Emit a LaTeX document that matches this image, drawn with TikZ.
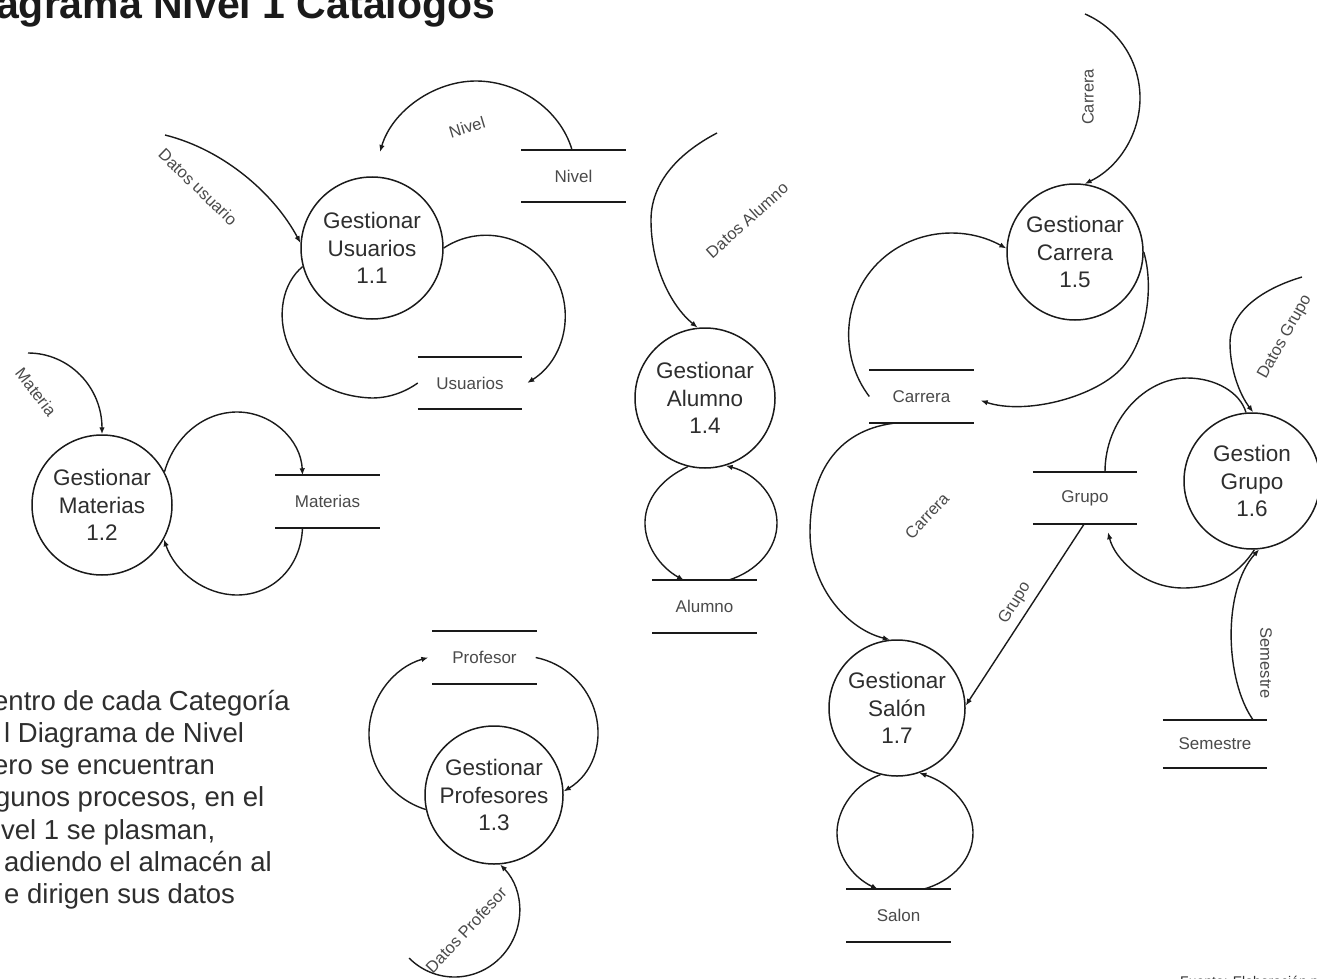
\documentclass[tikz,border=0pt]{standalone}
\usepackage{fontspec}
\setmainfont{Liberation Sans}
\usetikzlibrary{arrows.meta}
\definecolor{ink}{HTML}{1A1A1A}
\definecolor{txt}{HTML}{2E2E2E}
\definecolor{lbl}{HTML}{4A4A4A}

\begin{document}
\begin{tikzpicture}[x=1pt,y=-1pt,
  proc/.style={circle, draw=ink, line width=1.5pt, inner sep=0pt, align=center,
    text=txt, font=\fontsize{22.5}{27.5}\selectfont},
  storebox/.style={minimum width=104pt, minimum height=52pt, inner sep=0pt,
    text=lbl, font=\fontsize{17}{19}\selectfont},
  storeline/.style={draw=ink, line width=2pt},
  flow/.style={draw=ink, line width=1.4pt},
  arr/.style={flow, -{Latex[length=7pt,width=5.5pt]}},
  flowlbl/.style={text=lbl, font=\fontsize{16.5}{18}\selectfont, inner sep=1pt},
  note/.style={anchor=base west, text=txt, font=\fontsize{27.5}{32}\selectfont, inner sep=0pt}
]
\useasboundingbox (0,0) rectangle (1317,979);
\clip (0,0) rectangle (1317,979);
\fill[white] (0,0) rectangle (1317,979);

% title and side note
\node[anchor=base west, inner sep=0pt, text=ink, font=\bfseries\fontsize{41}{45}\selectfont]
  (title) at (-4,19) {agrama Nivel 1 Catalogos};
\node[note] (n1) at (-7,710)   {entro de cada Categoría};
\node[note] (n2) at (4,742.3)  {l Diagrama de Nivel};
\node[note] (n3) at (-7,774.6) {ero se encuentran};
\node[note] (n4) at (-5,806.9) {gunos procesos, en el};
\node[note] (n5) at (1,839.2)  {vel 1 se plasman,};
\node[note] (n6) at (4,871.5)  {adiendo el almacén al};
\node[note] (n7) at (4,903.8)  {e dirigen sus datos};
\node[anchor=base west, inner sep=0pt, text=txt, font=\fontsize{14}{16}\selectfont]
  (src) at (1180,986) {Fuente: Elaboración propia};

% processes
\node[proc, minimum size=142pt] (p11) at (372,248) {Gestionar\\Usuarios\\1.1};
\node[proc, minimum size=140pt] (p12) at (102,505) {Gestionar\\Materias\\1.2};
\node[proc, minimum size=138pt] (p13) at (494,795) {Gestionar\\Profesores\\1.3};
\node[proc, minimum size=140pt] (p14) at (705,398) {Gestionar\\Alumno\\1.4};
\node[proc, minimum size=136pt] (p15) at (1075,252) {Gestionar\\Carrera\\1.5};
\node[proc, minimum size=136pt] (p16) at (1252,481) {Gestion\\Grupo\\1.6};
\node[proc, minimum size=136pt] (p17) at (897,708) {Gestionar\\Salón\\1.7};

% data stores
\node[storebox] (sNivel)    at (573.5,176)   {Nivel};
\node[storebox] (sUsuarios) at (470,383)     {Usuarios};
\node[storebox] (sMaterias) at (327.5,501.5) {Materias};
\node[storebox] (sProfesor) at (484.5,657.5) {Profesor};
\node[storebox] (sAlumno)   at (704.5,606.5) {Alumno};
\node[storebox] (sCarrera)  at (921.5,396.5) {Carrera};
\node[storebox] (sGrupo)    at (1085,498)    {Grupo};
\node[storebox, minimum height=48pt] (sSemestre) at (1215,744) {Semestre};
\node[storebox] (sSalon)    at (898.5,915.5) {Salon};
\foreach \s in {sNivel,sUsuarios,sMaterias,sProfesor,sAlumno,sCarrera,sGrupo,sSemestre,sSalon}
  \draw[storeline] (\s.north west) -- (\s.north east) (\s.south west) -- (\s.south east);

% free ends of external flows
\coordinate (nivEnd)  at (380,152);
\coordinate (duStart) at (165,135);
\coordinate (maStart) at (28,353);
\coordinate (dpStart) at (409,958);
\coordinate (daStart) at (717,133);
\coordinate (caStart) at (1085,14);
\coordinate (dgStart) at (1302,277);

% 1.1 Usuarios
\draw[arr] ([xshift=-1.5pt]sNivel.north) .. controls (560,109) and (518,81) .. (476,81)
  .. controls (434,81) and (392,111) .. (nivEnd);
\node[flowlbl, rotate=17] (lNivel) at (467,127) {Nivel};
\draw[arr] (duStart) .. controls (225,150) and (275,195) .. (p11.176);
\node[flowlbl, rotate=-44] (lDatosUsuario) at (198,187) {Datos usuario};
\draw[flow] (p11.195) .. controls (262,300) and (280,395) .. (372,398)
  .. controls (392,398) and (408,390) .. (sUsuarios.west);
\draw[arr] (p11.0) .. controls (480.5,223.7) and (529.8,235.3) .. (553,272.8)
  .. controls (576.2,310.3) and (564.9,359.4) .. ([xshift=5pt]sUsuarios.east);

% 1.2 Materias
\draw[arr] (maStart) .. controls (69,353) and (102,387) .. (p12.north);
\node[flowlbl, rotate=-52] (lMateria) at (36,392) {Materia};
\draw[arr] (p12.28) .. controls (175,435) and (205,412) .. (237,412)
  .. controls (272,412) and (301,440) .. ([xshift=-25pt]sMaterias.north);
\draw[arr] ([xshift=-25pt]sMaterias.south) .. controls (301,568) and (272,595) .. (237,595)
  .. controls (205,595) and (175,572) .. (p12.-29);

% 1.3 Profesores
\draw[arr] (p13.192) .. controls (391.6,798.8) and (368.3,767.6) .. (369,732.5)
  .. controls (369.7,697.4) and (394.1,667.2) .. ([xshift=-4pt]sProfesor.west);
\draw[arr] ([xshift=-1pt]sProfesor.east) .. controls (564.5,663.2) and (588.3,685.2) .. (595.7,714.3)
  .. controls (603.1,743.4) and (592.7,774) .. (p13.3);
\draw[arr] (dpStart) .. controls (435,984) and (476,983) .. (501,957)
  .. controls (526,931) and (525,890) .. (p13.-85);
\node[flowlbl, rotate=47] (lDatosProf) at (466,930) {Datos Profesor};

% 1.4 Alumno
\draw[arr] (daStart) .. controls (675,155) and (651,185) .. (651,220)
  .. controls (651,265) and (670,305) .. (p14.96);
\node[flowlbl, rotate=42] (lDatosAlumno) at (747,220) {Datos Alumno};
\draw[arr] (p14.256) .. controls (662.4,478.1) and (645.7,498.4) .. (645,521.5)
  .. controls (644.3,544.6) and (659.8,567) .. ([xshift=-20.5pt]sAlumno.north);
\draw[arr] ([xshift=23.5pt]sAlumno.north) .. controls (757.4,571.3) and (777.6,548.2) .. (777,522)
  .. controls (776.4,495.8) and (755.3,473.4) .. (p14.-73);

% 1.5 Carrera
\draw[arr] (caStart) .. controls (1118.5,28.5) and (1140,61.5) .. (1140,98)
  .. controls (1140,134.5) and (1118.5,167.5) .. (p15.82);
\node[flowlbl, rotate=90] (lCarreraIn) at (1088,97) {Carrera};
\draw[arr] (sCarrera.west) .. controls (840.6,358.8) and (841.5,303.9) .. (873.9,267.3)
  .. controls (906.3,230.7) and (960.7,223.4) .. (p15.177);
\draw[arr] (p15.0) .. controls (1155,290) and (1145,345) .. (1120,370)
  .. controls (1092,398) and (1025,415) .. ([xshift=7pt,yshift=-4pt]sCarrera.east);

% 1.7 Salon
\draw[arr] ([xshift=-23pt]sCarrera.south) .. controls (840,428) and (810,470) .. (810,532)
  .. controls (810,590) and (850,630) .. (p17.96);
\node[flowlbl, rotate=47] (lCarreraSalon) at (927,516) {Carrera};
\draw[arr] ([xshift=-1pt]sGrupo.south) -- (p17.2);
\node[flowlbl, rotate=58] (lGrupo) at (1015,603) {Grupo};
\draw[arr] (p17.256) .. controls (855,784) and (837.7,808.4) .. (837,831.5)
  .. controls (836.3,854.6) and (852.2,877) .. ([xshift=-20.5pt]sSalon.north);
\draw[arr] ([xshift=24.5pt]sSalon.north) .. controls (952.8,881.3) and (973.6,858.2) .. (973,832)
  .. controls (972.4,805.8) and (950.7,783.4) .. (p17.-71.5);

% 1.6 Grupo
\draw[arr] (dgStart) .. controls (1265,288) and (1230,310) .. (1230,343)
  .. controls (1230,370) and (1240,395) .. (p16.89);
\node[flowlbl, rotate=61] (lDatosGrupo) at (1285,337) {Datos Grupo};
\draw[flow] ([xshift=20pt]sGrupo.north) .. controls (1105,420) and (1145,378) .. (1187,378)
  .. controls (1215,378) and (1240,392) .. (p16.95);
\draw[arr] (p16.-88) .. controls (1238,575) and (1215,588) .. (1183,588)
  .. controls (1145,588) and (1115,560) .. ([xshift=23pt,yshift=-8pt]sGrupo.south);
\draw[arr] ([xshift=38pt]sSemestre.north) .. controls (1225,680) and (1222,590) .. (p16.-84);
\node[flowlbl, rotate=-90] (lSemestre) at (1266,663) {Semestre};
\end{tikzpicture}
\end{document}
